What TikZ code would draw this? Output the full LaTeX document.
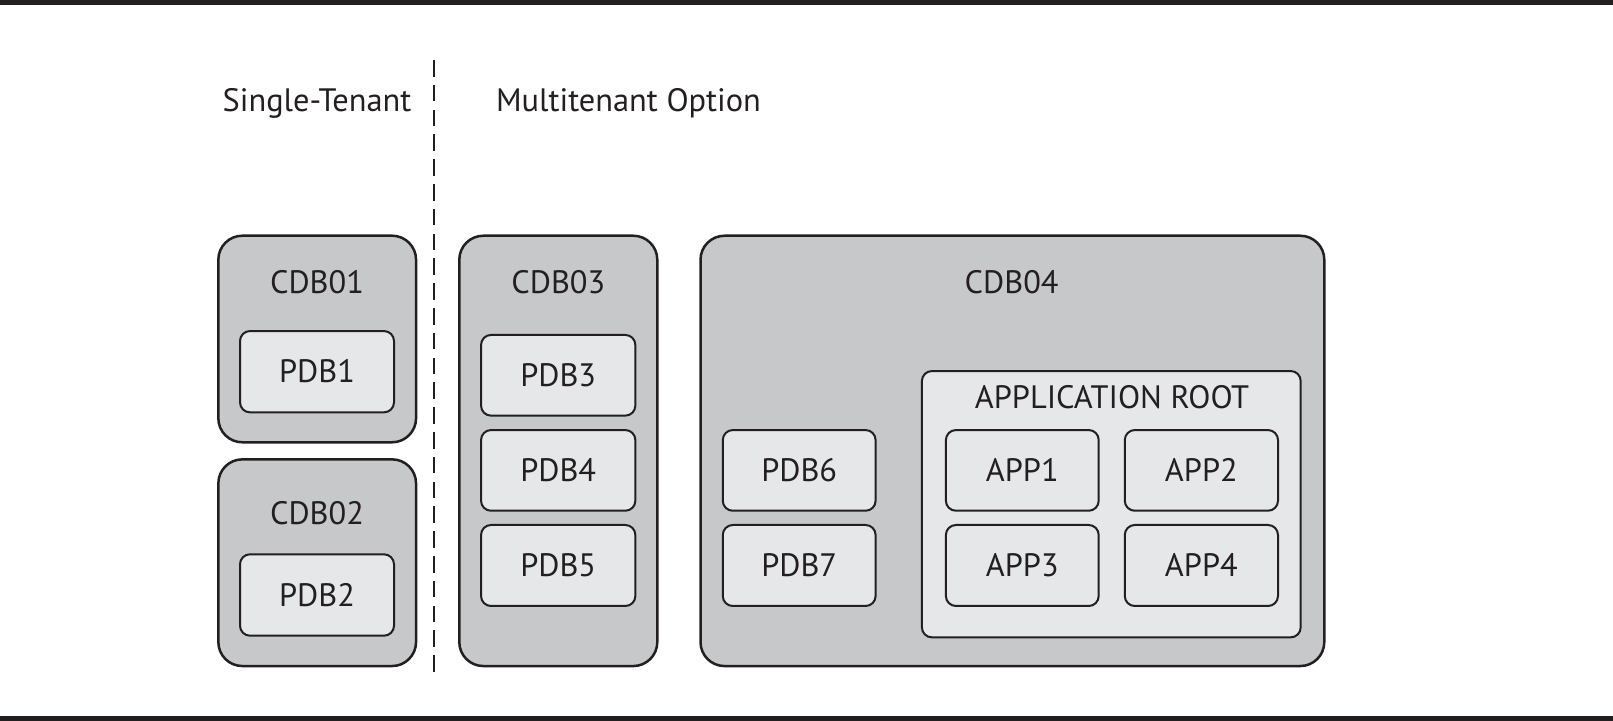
\documentclass[tikz,border=0pt]{standalone}
\usepackage{fontspec}
\setmainfont{PT Sans}
\definecolor{ink}{HTML}{231F20}
\definecolor{outerfill}{HTML}{C7C8CA}
\definecolor{innerfill}{HTML}{E6E7E8}
\tikzset{
  cdbbox/.style={draw=ink, fill=outerfill, line width=1.25pt, rounded corners=12pt, inner sep=0pt},
  pdbbox/.style={draw=ink, fill=innerfill, line width=1pt, rounded corners=5pt, inner sep=0pt,
    font=\fontsize{16.2}{19}\selectfont, text=ink, text height=11.3pt, text depth=0pt},
  lbl/.style={font=\fontsize{16.2}{19}\selectfont, text=ink, anchor=base, inner sep=0pt},
  bar/.style={fill=ink, draw=none},
  divider/.style={draw=ink, line width=1pt, dash pattern=on 8.3pt off 4.1pt}
}
\begin{document}
\begin{tikzpicture}[x=0.5pt, y=-0.5pt]
\useasboundingbox (0,0) rectangle (1613,721);
\fill[bar] (0,0) rectangle (1613,5);
\fill[bar] (0,716) rectangle (1613,721);
% headings
\node[lbl] (single) at (317,111.7) {Single-Tenant};
\node[lbl] (multi) at (628.5,111.7) {Multitenant Option};
\coordinate (divtop) at (434.3,60);
\coordinate (divbot) at (434.3,677);
\draw[divider] (divtop) -- (divbot);
% CDB01
\node[cdbbox, minimum width=98.85pt, minimum height=103.3pt] (cdb01) at (317.2,339) {};
\node[lbl] (cdb01l) at (317,293.3) {CDB01};
\node[pdbbox, minimum width=77pt, minimum height=40.65pt] (pdb1) at (317,371.7) {PDB1};
% CDB02
\node[cdbbox, minimum width=98.85pt, minimum height=103.35pt] (cdb02) at (317.2,562.7) {};
\node[lbl] (cdb02l) at (317,525) {CDB02};
\node[pdbbox, minimum width=77pt, minimum height=40.7pt] (pdb2) at (317,595) {PDB2};
% CDB03
\node[cdbbox, minimum width=99pt, minimum height=215.15pt] (cdb03) at (558.3,450.9) {};
\node[lbl] (cdb03l) at (558.3,293.3) {CDB03};
\node[pdbbox, minimum width=77.15pt, minimum height=40.35pt] (pdb3) at (558.2,375.3) {PDB3};
\node[pdbbox, minimum width=77.15pt, minimum height=40.35pt] (pdb4) at (558.2,470.4) {PDB4};
\node[pdbbox, minimum width=77.15pt, minimum height=40.5pt] (pdb5) at (558.2,565.5) {PDB5};
% CDB04
\node[cdbbox, minimum width=311.9pt, minimum height=215.15pt] (cdb04) at (1012.4,450.9) {};
\node[lbl] (cdb04l) at (1011.6,293.3) {CDB04};
\node[pdbbox, minimum width=76.4pt, minimum height=40.35pt] (pdb6) at (799.2,470.4) {PDB6};
\node[pdbbox, minimum width=76.4pt, minimum height=40.5pt] (pdb7) at (799.2,565.5) {PDB7};
\node[pdbbox, minimum width=189.4pt, minimum height=133.15pt] (approot) at (1111.3,504.2) {};
\node[lbl] (approotl) at (1112,408.3) {APPLICATION ROOT};
\node[pdbbox, minimum width=76.4pt, minimum height=40.35pt] (app1) at (1022.3,470.4) {APP1};
\node[pdbbox, minimum width=76.6pt, minimum height=40.35pt] (app2) at (1201.4,470.4) {APP2};
\node[pdbbox, minimum width=76.4pt, minimum height=40.5pt] (app3) at (1022.3,565.5) {APP3};
\node[pdbbox, minimum width=76.6pt, minimum height=40.5pt] (app4) at (1201.4,565.5) {APP4};
\end{tikzpicture}
\end{document}
